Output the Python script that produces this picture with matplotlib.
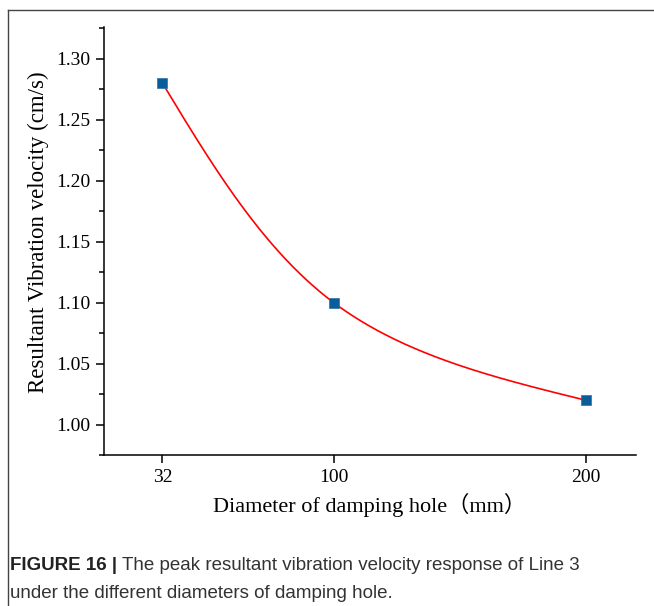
import numpy as np
import matplotlib.pyplot as plt
from matplotlib.lines import Line2D
from matplotlib.ticker import MultipleLocator

# data
diameter = [32, 100, 200]
velocity = [1.28, 1.10, 1.02]
y_ticks = [1.00, 1.05, 1.10, 1.15, 1.20, 1.25, 1.30]


def natural_spline(t, v, ts):
    # natural cubic spline of v over t, evaluated at ts
    t = np.asarray(t, float)
    v = np.asarray(v, float)
    k = len(t)
    h = np.diff(t)
    A = np.zeros((k, k))
    b = np.zeros(k)
    A[0, 0] = A[-1, -1] = 1
    for i in range(1, k - 1):
        A[i, i - 1] = h[i - 1]
        A[i, i] = 2 * (h[i - 1] + h[i])
        A[i, i + 1] = h[i]
        b[i] = 6 * ((v[i + 1] - v[i]) / h[i] - (v[i] - v[i - 1]) / h[i - 1])
    m = np.linalg.solve(A, b)
    out = np.empty_like(ts)
    for j, s in enumerate(ts):
        i = min(np.searchsorted(t, s, side='right') - 1, k - 2)
        a = t[i + 1] - s
        c = s - t[i]
        out[j] = (m[i] * a ** 3 + m[i + 1] * c ** 3) / (6 * h[i]) \
            + (v[i] / h[i] - m[i] * h[i] / 6) * a \
            + (v[i + 1] / h[i] - m[i + 1] * h[i] / 6) * c
    return out


serif = ['Liberation Serif', 'Noto Sans CJK SC']

fig = plt.figure(figsize=(6.54, 6.06), dpi=100)
ax = fig.add_axes([0.159, 0.249, 0.8135, 0.7064])

# smooth connecting line: parametric spline through the points
idx = np.arange(len(diameter))
tt = np.linspace(0, len(diameter) - 1, 300)
ax.plot(natural_spline(idx, diameter, tt), natural_spline(idx, velocity, tt),
        color='red', lw=1.2, zorder=2)
ax.plot(diameter, velocity, ls='none', marker='s', ms=6.5,
        color='#0b5c9a', mec='#2a6fa8', mew=0.5, zorder=3)

ax.set_xlim(8.8, 220)
ax.set_ylim(0.975, 1.326)
ax.set_xticks(diameter)
ax.set_xticklabels([str(d) for d in diameter])
ax.set_yticks(y_ticks)
ax.set_yticklabels(['%.2f' % v for v in y_ticks])
ax.yaxis.set_minor_locator(MultipleLocator(0.025))

for s in ['top', 'right']:
    ax.spines[s].set_visible(False)
for s in ['left', 'bottom']:
    ax.spines[s].set_linewidth(1.1)

ax.tick_params(axis='both', which='major', direction='out', length=6,
               width=1.1, labelsize=14, pad=4)
ax.tick_params(axis='y', which='minor', direction='out', length=3.5, width=1.1)
for lab in ax.get_xticklabels() + ax.get_yticklabels():
    lab.set_family(serif)

ax.set_xlabel('Diameter of damping hole（mm）', fontsize=16, family=serif,
              labelpad=5)
ax.set_ylabel('Resultant Vibration velocity (cm/s)', fontsize=16.5,
              family=serif)
ax.yaxis.set_label_coords(-0.104, 0.52)

# frame lines around the figure panel
fig.add_artist(Line2D([8 / 654, 1.0], [1 - 10 / 606, 1 - 10 / 606],
                      transform=fig.transFigure, color='#444444', lw=1))
fig.add_artist(Line2D([8 / 654, 8 / 654], [0, 1 - 10 / 606],
                      transform=fig.transFigure, color='#444444', lw=1))

# caption
cap = fig.text(10 / 654, 1 - 565 / 606, 'FIGURE 16 |', fontsize=13.5,
               fontweight='bold', family='Liberation Sans', va='center',
               color='#222222')
fig.canvas.draw()
bb = cap.get_window_extent().transformed(fig.transFigure.inverted())
fig.text(bb.x1 + 5 / 654, 1 - 565 / 606,
         'The peak resultant vibration velocity response of Line 3',
         fontsize=13.5, family='Liberation Sans', va='center', color='#333333')
fig.text(10 / 654, 1 - 593 / 606,
         'under the different diameters of damping hole.',
         fontsize=13.5, family='Liberation Sans', va='center', color='#333333')

fig.savefig('out.png', dpi=100)
